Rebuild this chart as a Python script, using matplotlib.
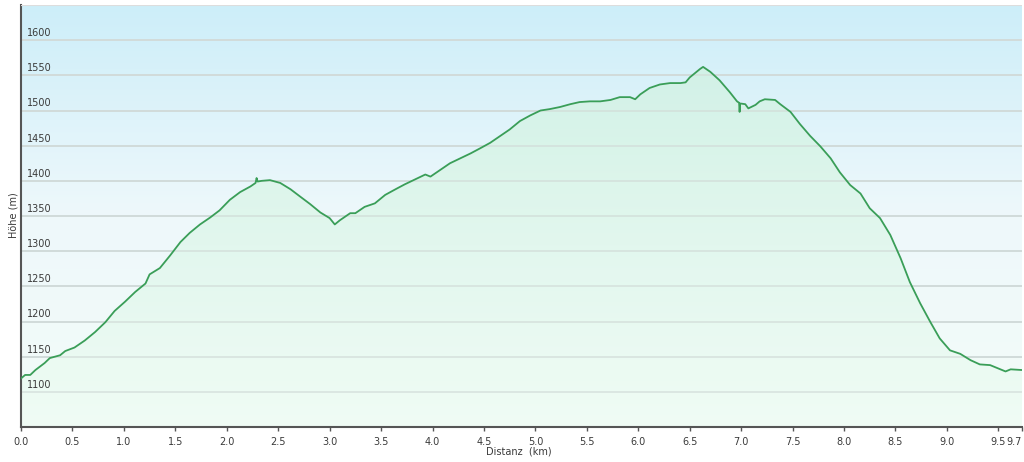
import numpy as np
import matplotlib.pyplot as plt
from matplotlib.colors import LinearSegmentedColormap
from matplotlib.transforms import blended_transform_factory

# Elevation profile (distance in km, elevation in m)
dist = [0.00, 0.04, 0.09, 0.14, 0.23, 0.28, 0.38, 0.43, 0.52, 0.62, 0.72, 0.82,
        0.91, 1.01, 1.11, 1.21, 1.25, 1.35, 1.45, 1.55, 1.64, 1.74, 1.84, 1.93,
        2.03, 2.13, 2.23, 2.28, 2.29, 2.30, 2.34, 2.42, 2.52, 2.62, 2.71, 2.81,
        2.91, 3.00, 3.05, 3.10, 3.20, 3.25, 3.34, 3.44, 3.54, 3.64, 3.73, 3.83,
        3.93, 3.98, 4.07, 4.17, 4.27, 4.37, 4.46, 4.56, 4.66, 4.75, 4.85, 4.95,
        5.05, 5.14, 5.24, 5.34, 5.43, 5.53, 5.63, 5.73, 5.82, 5.92, 5.97, 6.02,
        6.11, 6.21, 6.31, 6.41, 6.46, 6.50, 6.60, 6.63, 6.70, 6.79, 6.89, 6.96,
        6.98, 6.985, 6.99, 7.04, 7.07, 7.14, 7.18, 7.23, 7.33, 7.38, 7.48, 7.57,
        7.67, 7.77, 7.87, 7.96, 8.06, 8.16, 8.25, 8.35, 8.45, 8.55, 8.64, 8.74,
        8.84, 8.93, 9.03, 9.13, 9.23, 9.32, 9.42, 9.52, 9.57, 9.62, 9.73]
elev = [1119, 1124, 1124, 1131, 1141, 1148, 1152, 1158, 1163, 1173, 1185, 1199,
        1215, 1228, 1242, 1254, 1267, 1276, 1294, 1313, 1326, 1338, 1348, 1358,
        1373, 1384, 1392, 1397, 1404, 1399, 1400, 1401, 1397, 1388, 1378, 1367,
        1355, 1347, 1338, 1344, 1354, 1354, 1363, 1368, 1380, 1388, 1395, 1402,
        1409, 1406, 1415, 1425, 1432, 1439, 1446, 1454, 1464, 1473, 1485, 1493,
        1500, 1502, 1505, 1509, 1512, 1513, 1513, 1515, 1519, 1519, 1516, 1523,
        1532, 1537, 1539, 1539, 1540, 1547, 1559, 1562, 1555, 1543, 1526, 1513,
        1511, 1498, 1510, 1509, 1503, 1508, 1513, 1516, 1515, 1509, 1498, 1481,
        1464, 1449, 1432, 1412, 1394, 1382, 1361, 1347, 1323, 1290, 1256, 1226,
        1199, 1176, 1159, 1154, 1145, 1139, 1138, 1132, 1129, 1132, 1131]

x_ticks = [0.0, 0.5, 1.0, 1.5, 2.0, 2.5, 3.0, 3.5, 4.0, 4.5, 5.0, 5.5,
           6.0, 6.5, 7.0, 7.5, 8.0, 8.5, 9.0, 9.5, 9.73]
x_labels = ['0.0', '0.5', '1.0', '1.5', '2.0', '2.5', '3.0', '3.5', '4.0', '4.5',
            '5.0', '5.5', '6.0', '6.5', '7.0', '7.5', '8.0', '8.5', '9.0', '9.5', '9.7']
y_ticks = [1100, 1150, 1200, 1250, 1300, 1350, 1400, 1450, 1500, 1550, 1600]

xmin, xmax = 0, 9.73
ymin, ymax = 1050, 1650

fig = plt.figure(figsize=(10.24, 4.62), dpi=100)
ax = fig.add_axes([21 / 1024, 35 / 462, 1001 / 1024, 422 / 462])
ax.set_xlim(xmin, xmax)
ax.set_ylim(ymin, ymax)

# background gradient (light blue at top to near white-green at bottom)
bg = LinearSegmentedColormap.from_list('bg', ['#f3fcf8', '#eef8fb', '#cdeef9'])
grad = np.linspace(0, 1, 256).reshape(-1, 1)
ax.imshow(grad, aspect='auto', cmap=bg, origin='lower',
          extent=[xmin, xmax, ymin, ymax], zorder=0)

# grid lines
for v in y_ticks:
    ax.axhline(v, color='#d0d9dc', lw=1.4, zorder=1)

# filled area with its own gradient, clipped to the profile
fill_cm = LinearSegmentedColormap.from_list('fill', ['#f0fcf5', '#e0f7ec', '#d2f2e4'])
poly = ax.fill_between(dist, elev, ymin, color='none', lw=0)
img = ax.imshow(grad, aspect='auto', cmap=fill_cm, origin='lower',
                extent=[xmin, xmax, ymin, 1565], zorder=2, alpha=0.85)
path = poly.get_paths()[0]
img.set_clip_path(path, transform=ax.transData)
for v in y_ticks:
    ax.axhline(v, color='#d3ddd9', lw=1.4, zorder=2.5, alpha=0.6)

ax.plot(dist, elev, color='#3a9e58', lw=1.3, zorder=3)

# y labels sit inside the plot, just above each grid line
trans = blended_transform_factory(ax.transAxes, ax.transData)
for v in y_ticks:
    ax.text(0.006, v + 3, str(v), transform=trans, fontsize=7, color='#3a3a3a',
            ha='left', va='bottom', zorder=4)
ax.set_yticks([])

ax.set_xticks(x_ticks)
ax.set_xticklabels(x_labels, fontsize=7, color='#3a3a3a')
ax.get_xticklabels()[-1].set_horizontalalignment('right')
ax.tick_params(axis='x', length=3, width=1, color='#555555', pad=4)

for s in ['top', 'right']:
    ax.spines[s].set_visible(False)
ax.spines['left'].set_color('#555555')
ax.spines['left'].set_linewidth(1.5)
ax.spines['bottom'].set_color('#555555')
ax.spines['bottom'].set_linewidth(1.5)
ax.axhline(ymax, color='#dddddd', lw=1.5, zorder=5)

fig.text(13 / 1024, 1 - 215 / 462, 'Höhe (m)', rotation=90, fontsize=7,
         color='#3a3a3a', ha='center', va='center')
fig.text(519 / 1024, 1 - 452 / 462, 'Distanz  (km)', fontsize=7,
         color='#3a3a3a', ha='center', va='center')

fig.savefig('out.png', dpi=100, facecolor='white')
